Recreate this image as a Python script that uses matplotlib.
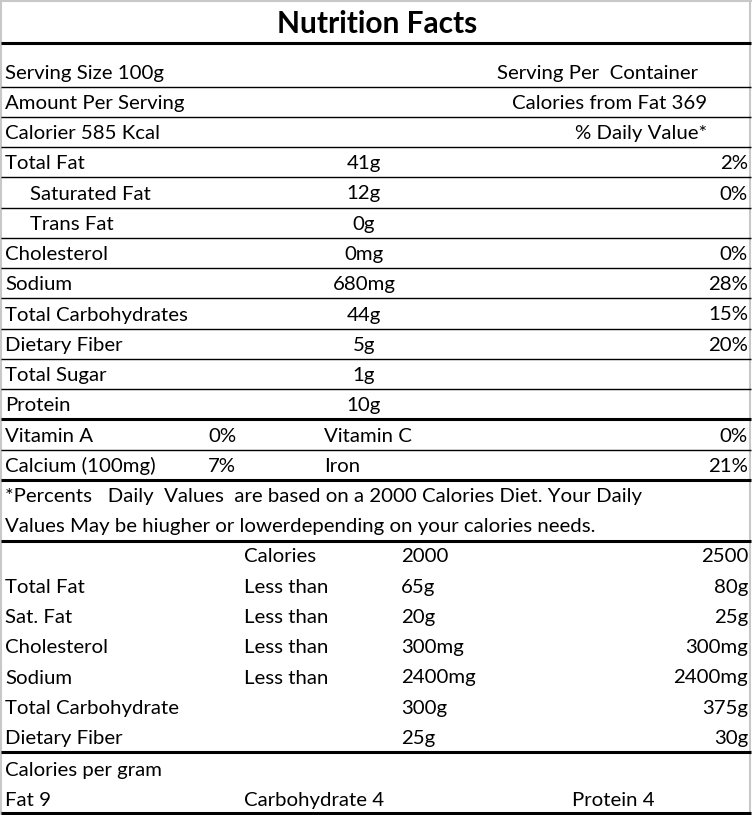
import matplotlib
matplotlib.use("Agg")
import matplotlib.pyplot as plt

title = "Nutrition Facts"
header_rows = [("Serving Size 100g", "Serving Per  Container"),
               ("Amount Per Serving", "Calories from Fat 369"),
               ("Calorier 585 Kcal", "% Daily Value*")]
nutrients = ["Total Fat", "Saturated Fat", "Trans Fat", "Cholesterol", "Sodium",
             "Total Carbohydrates", "Dietary Fiber", "Total Sugar", "Protein"]
indent = [False, True, True, False, False, False, False, False, False]
amounts = ["41g", "12g", "0g", "0mg", "680mg", "44g", "5g", "1g", "10g"]
daily_pct = ["2%", "0%", "", "0%", "28%", "15%", "20%", "", ""]
vitamins = [("Vitamin A", "0%", "Vitamin C", "0%"),
            ("Calcium (100mg)", "7%", "Iron", "21%")]
footnote = ["*Percents   Daily  Values  are based on a 2000 Calories Diet. Your Daily",
            "Values May be hiugher or lowerdepending on your calories needs."]
dv_names = ["", "Total Fat", "Sat. Fat", "Cholesterol", "Sodium", "Total Carbohydrate", "Dietary Fiber"]
dv_qual = ["Calories", "Less than", "Less than", "Less than", "Less than", "", ""]
dv_2000 = ["2000", "65g", "20g", "300mg", "2400mg", "300g", "25g"]
dv_2500 = ["2500", "80g", "25g", "300mg", "2400mg", "375g", "30g"]
cal_gram = ["Fat 9", "Carbohydrate 4", "Protein 4"]

W, H = 752, 815
fig = plt.figure(figsize=(W/100, H/100), dpi=100)
ax = fig.add_axes([0, 0, 1, 1])
ax.set_xlim(0, W); ax.set_ylim(H, 0); ax.axis("off")
FONT = "Lato"; FS = 14.7
def t(x, y, s, ha="left", **kw):
    ax.text(x, y + 2, s, ha=ha, va="center", fontfamily=FONT, fontsize=FS, color="black", **kw)
def hl(y, lw):
    ax.plot([1, 751], [y, y], color="black", lw=lw, solid_capstyle="butt")

# borders
ax.plot([1, 1], [0, 814], color="#c8c8c8", lw=1.5)
ax.plot([750, 750], [0, 814], color="#c8c8c8", lw=1.5)
ax.plot([1, 751], [1, 1], color="#c8c8c8", lw=1.5)
ax.text(377, 24, title, ha="center", va="center", fontfamily=FONT, fontsize=21.5, fontweight="bold")
hl(43, 2.2)

y = 71; step = 30.25
for i, (a, b) in enumerate(header_rows):
    t(5, y, a)
    if i == 0:
        t(497, y, b)
    else:
        t(707, y, b, ha="right")
    hl(y + 15.5, 1.0)
    y += step
for i, n in enumerate(nutrients):
    t(30 if indent[i] else 5, y, n)
    t(364, y, amounts[i], ha="center")
    if daily_pct[i]:
        t(748, y, daily_pct[i], ha="right")
    hl(y + 15.5, 2.2 if i == len(nutrients) - 1 else 1.0)
    y += step
for i, (a, b, c, d) in enumerate(vitamins):
    t(5, y, a); t(222, y, b, ha="center"); t(324, y, c); t(748, y, d, ha="right")
    hl(y + 15.5, 2.2 if i == 1 else 1.0)
    y += step
for s in footnote:
    t(5, y, s); y += step
hl(y - 14.5, 2.2)
for i in range(len(dv_names)):
    t(5, y, dv_names[i]); t(244, y, dv_qual[i]); t(401, y, dv_2000[i]); t(748, y, dv_2500[i], ha="right")
    y += step
hl(y - 14.5, 2.2)
y += 1.5
t(5, y, "Calories per gram")
y += step
t(5, y, cal_gram[0]); t(244, y, cal_gram[1]); t(572, y, cal_gram[2])
hl(813, 2.2)
fig.savefig("out.png", dpi=100)
